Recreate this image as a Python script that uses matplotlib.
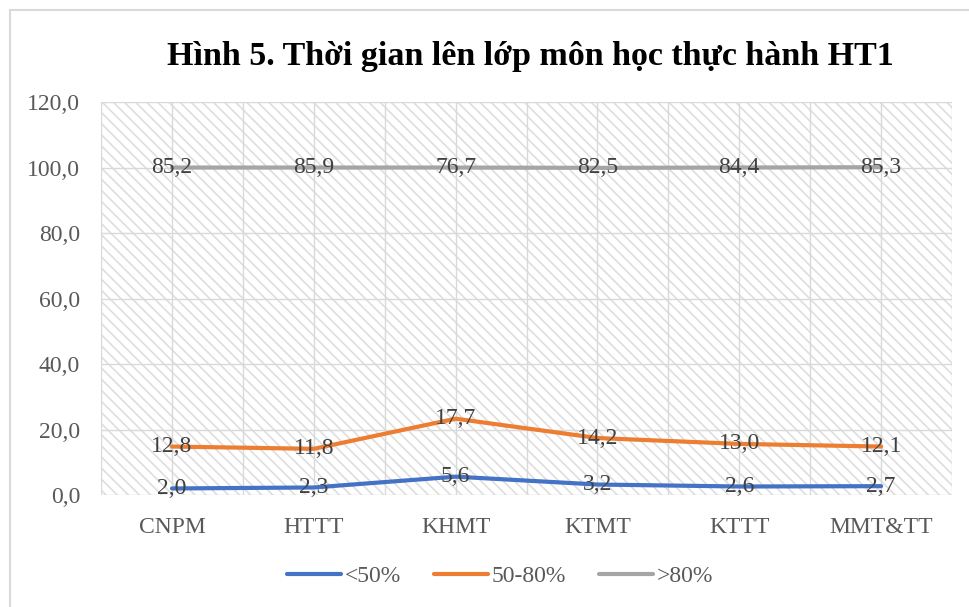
import matplotlib.pyplot as plt
import numpy as np
from matplotlib.patches import Rectangle

plt.rcParams['font.family'] = ['Liberation Serif', 'DejaVu Serif']
plt.rcParams['hatch.linewidth'] = 1.2
plt.rcParams['hatch.color'] = '#dedede'

categories = ['CNPM', 'HTTT', 'KHMT', 'KTMT', 'KTTT', 'MMT&TT']
below_50 = [2.0, 2.3, 5.6, 3.2, 2.6, 2.7]
from_50_80 = [12.8, 11.8, 17.7, 14.2, 13.0, 12.1]
above_80 = [85.2, 85.9, 76.7, 82.5, 84.4, 85.3]
series_names = ['<50%', '50-80%', '>80%']
colors = ['#4472C4', '#ED7D31', '#A5A5A5']

fig = plt.figure(figsize=(9.69, 6.07), dpi=100)
ax = fig.add_axes([0.1043, 0.1845, 0.8782, 0.6474])

# outer chart border (only top and left visible in the crop)
fig.patches.append(Rectangle((10 / 969, -0.05), 1.0, 1 - 10 / 607 + 0.05,
                             transform=fig.transFigure, fill=False,
                             edgecolor='#d9d9d9', linewidth=1.5))

# hatched plot area
ax.add_patch(Rectangle((0, 0), 1, 1, transform=ax.transAxes, facecolor='white',
                       hatch='\\\\\\', edgecolor='#dedede', linewidth=0, zorder=0))

x = np.arange(len(categories))
stacked = np.cumsum([below_50, from_50_80, above_80], axis=0)
raw = [below_50, from_50_80, above_80]

for i in range(3):
    ax.plot(x, stacked[i], color=colors[i], linewidth=3, solid_capstyle='round',
            label=series_names[i], zorder=3)
    for xi, yi, v in zip(x, stacked[i], raw[i]):
        ax.text(xi, yi, f'{v:.1f}'.replace('.', ','), ha='center', va='center',
                fontsize=17, color='#404040', zorder=4)

ax.set_xlim(-0.5, len(categories) - 0.5)
ax.set_ylim(0, 120)
ax.set_yticks(np.arange(0, 121, 20))
ax.set_yticklabels([f'{v:.1f}'.replace('.', ',') for v in np.arange(0, 121, 20)])
ax.set_xticks(x)
ax.set_xticklabels(categories)
ax.set_xticks(np.arange(-0.5, len(categories), 1.0), minor=True)
ax.tick_params(axis='both', which='both', length=0, labelsize=17, labelcolor='#595959')
ax.tick_params(axis='x', pad=16)
ax.tick_params(axis='y', pad=15)

ax.grid(True, which='both', color='#d9d9d9', linewidth=1)
ax.set_axisbelow(True)
for s in ax.spines.values():
    s.set_visible(False)
ax.patch.set_visible(False)

fig.text(530 / 969, 1 - 56 / 607, 'Hình 5. Thời gian lên lớp môn học thực hành HT1',
         ha='center', va='center', fontsize=24.5, fontweight='bold')

leg = ax.legend(loc='center', bbox_to_anchor=(500 / 969, 1 - 576 / 607),
                bbox_transform=fig.transFigure, ncol=3, frameon=False,
                fontsize=17, handlelength=2.3, handletextpad=0.15, columnspacing=1.4)
for t in leg.get_texts():
    t.set_color('#595959')

fig.savefig('out.png', dpi=100)
